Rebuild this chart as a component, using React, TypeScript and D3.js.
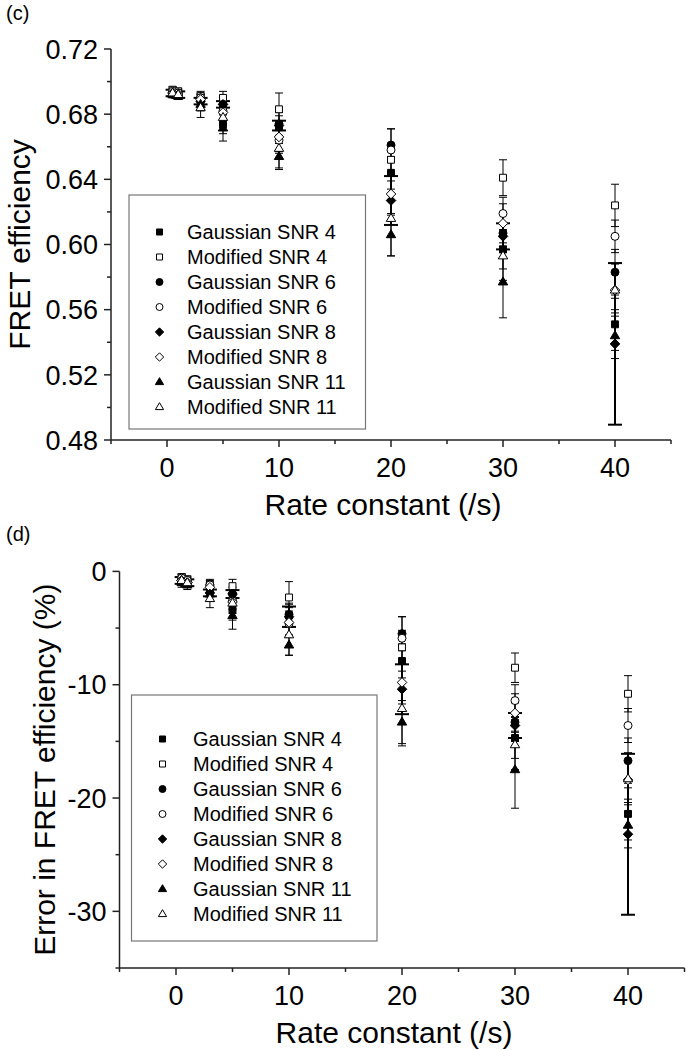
import React from 'react';
import * as d3 from 'd3';

// ---------- data ----------
const rates = [0.5, 1, 3, 5, 10, 20, 30, 40];
const seriesNames = [
  'Gaussian SNR 4', 'Modified SNR 4', 'Gaussian SNR 6', 'Modified SNR 6',
  'Gaussian SNR 8', 'Modified SNR 8', 'Gaussian SNR 11', 'Modified SNR 11',
];

// panel (c): FRET efficiency
const effGS4 = [0.693, 0.692, 0.689, 0.674, 0.672, 0.644, 0.597, 0.551];
const effMS4 = [0.695, 0.694, 0.691, 0.690, 0.683, 0.652, 0.641, 0.624];
const effGS6 = [0.694, 0.693, 0.690, 0.686, 0.674, 0.661, 0.607, 0.583];
const effMS6 = [0.694, 0.693, 0.690, 0.682, 0.664, 0.658, 0.619, 0.605];
const effGS8 = [0.693, 0.692, 0.688, 0.686, 0.673, 0.627, 0.605, 0.539];
const effMS8 = [0.693, 0.692, 0.689, 0.681, 0.666, 0.631, 0.613, 0.572];
const effGS11 = [0.692, 0.691, 0.686, 0.6715, 0.654, 0.606, 0.577, 0.544];
const effMS11 = [0.693, 0.692, 0.684, 0.678, 0.659, 0.616, 0.593, 0.572];

const effErrGS4 = [0.002, 0.002, 0.003, 0.006, 0.007, 0.010, 0.012, 0.016];
const effErrMS4 = [0.002, 0.002, 0.003, 0.004, 0.010, 0.010, 0.011, 0.013];
const effErrGS6 = [0.002, 0.002, 0.003, 0.004, 0.007, 0.010, 0.012, 0.014];
const effErrMS6 = [0.002, 0.002, 0.003, 0.005, 0.008, 0.013, 0.010, 0.010];
const effErrGS8 = [0.002, 0.002, 0.002, 0.002, 0.003, 0.015, 0.008, 0.0496];
const effErrMS8 = [0.002, 0.002, 0.003, 0.005, 0.009, 0.013, 0.012, 0.012];
const effErrGS11 = [0.002, 0.002, 0.004, 0.008, 0.008, 0.013, 0.022, 0.014];
const effErrMS11 = [0.002, 0.002, 0.006, 0.006, 0.012, 0.023, 0.015, 0.016];

// panel (d): error in FRET efficiency (%)
const errGS4 = [-0.8, -1.0, -1.4, -3.4, -3.9, -7.9, -14.7, -21.4];
const errMS4 = [-0.5, -0.7, -1.1, -1.3, -2.3, -6.7, -8.5, -10.8];
const errGS6 = [-0.6, -0.8, -1.2, -2.0, -3.8, -5.5, -13.3, -16.7];
const errMS6 = [-0.6, -0.8, -1.2, -2.6, -4.6, -5.9, -11.4, -13.6];
const errGS8 = [-0.8, -1.0, -1.9, -2.0, -4.0, -10.4, -13.6, -23.2];
const errMS8 = [-0.8, -1.0, -1.4, -2.7, -4.5, -9.8, -12.5, -18.4];
const errGS11 = [-1.0, -1.2, -2.0, -3.9, -6.5, -13.3, -17.5, -22.4];
const errMS11 = [-0.8, -1.0, -2.4, -2.8, -5.6, -12.1, -15.3, -18.3];

const errErrGS4 = [0.3, 0.3, 0.4, 0.9, 1.0, 1.5, 1.8, 2.3];
const errErrMS4 = [0.3, 0.3, 0.4, 0.6, 1.4, 1.5, 1.3, 1.6];
const errErrGS6 = [0.3, 0.3, 0.4, 0.6, 1.0, 1.5, 1.7, 2.0];
const errErrMS6 = [0.3, 0.3, 0.4, 0.7, 1.1, 1.9, 1.4, 1.5];
const errErrGS8 = [0.3, 0.3, 0.3, 0.35, 0.9, 2.2, 1.1, 7.1];
const errErrMS8 = [0.3, 0.3, 0.4, 0.7, 1.3, 1.9, 1.7, 1.7];
const errErrGS11 = [0.4, 0.4, 0.6, 1.2, 0.9, 1.9, 3.4, 2.0];
const errErrMS11 = [0.3, 0.3, 0.8, 0.9, 1.8, 3.3, 2.2, 2.3];

const effTicks = [0.48, 0.52, 0.56, 0.60, 0.64, 0.68, 0.72];
const effMinor = [0.50, 0.54, 0.58, 0.62, 0.66, 0.70];
const errTicks = [0, -10, -20, -30];
const errMinor = [-5, -15, -25, -35];
const xTicks = [0, 10, 20, 30, 40];
const xMinor = [-5, 5, 15, 25, 35, 45];

// ---------- styles ----------
const FONT = "'Liberation Sans', Arial, Helvetica, sans-serif";
const shapes = ['square', 'square', 'circle', 'circle', 'diamond', 'diamond', 'triangle', 'triangle'];
const filled = [true, false, true, false, true, false, true, false];
const barWidth = [1, 1, 1, 1, 2, 1, 1, 1];
const capHalf = [4, 4, 4, 4, 7, 4, 4, 4];

function markerPath(shape: string, s: number): string {
  const p = d3.path();
  if (shape === 'square') {
    const h = s * 0.43;
    p.rect(-h, -h, 2 * h, 2 * h);
  } else if (shape === 'circle') {
    const r = s * 0.5;
    p.moveTo(r, 0);
    p.arc(0, 0, r, 0, Math.PI * 2);
  } else if (shape === 'diamond') {
    const h = s * 0.6;
    p.moveTo(0, -h); p.lineTo(h, 0); p.lineTo(0, h); p.lineTo(-h, 0); p.closePath();
  } else {
    const h = s * 0.62;
    p.moveTo(0, -h); p.lineTo(h * 0.95, h * 0.6); p.lineTo(-h * 0.95, h * 0.6); p.closePath();
  }
  return p.toString();
}

type PanelProps = {
  values: number[][];
  errors: number[][];
  xRange: [number, number];
  yDomain: [number, number];
  yRange: [number, number];
  yTicks: number[];
  yMinor: number[];
  yFmt: (v: number) => string;
  yTitle: string;
  yTitleX: number;
  label: string;
  labelY: number;
  legendBox: [number, number, number, number];
  legendMarkerX: number;
  legendTextX: number;
  legendRow0: number;
};

function Panel(p: PanelProps) {
  const x = d3.scaleLinear().domain([-5, 45]).range(p.xRange);
  const y = d3.scaleLinear().domain(p.yDomain).range(p.yRange);
  const x0 = p.xRange[0];
  const yb = p.yRange[0];
  const yt = p.yRange[1];
  const ms = 8;
  const axisColor = '#222';
  return (
    <g>
      <text x={6} y={p.labelY} fontSize={20} fontFamily={FONT} fill="#000">{p.label}</text>
      {/* error bars */}
      {p.values.map((vals, si) => (
        <g key={'e' + si} stroke="#000" strokeWidth={barWidth[si]} fill="none">
          {vals.map((v, i) => {
            const cx = x(rates[i]);
            const y1 = y(v + p.errors[si][i]);
            const y2 = y(v - p.errors[si][i]);
            const c = capHalf[si];
            return (
              <g key={i}>
                <line x1={cx} x2={cx} y1={y1} y2={y2} />
                <line x1={cx - c} x2={cx + c} y1={y1} y2={y1} />
                <line x1={cx - c} x2={cx + c} y1={y2} y2={y2} />
              </g>
            );
          })}
        </g>
      ))}
      {/* markers */}
      {p.values.map((vals, si) => (
        <g key={'m' + si}>
          {vals.map((v, i) => (
            <path key={i} d={markerPath(shapes[si], ms)}
              transform={`translate(${x(rates[i])},${y(v)})`}
              fill={filled[si] ? '#000' : '#fff'} stroke="#000" strokeWidth={1} />
          ))}
        </g>
      ))}
      {/* axes */}
      <line x1={x0} x2={x0} y1={yt} y2={yb} stroke={axisColor} strokeWidth={1.5} />
      <line x1={x0} x2={p.xRange[1]} y1={yb} y2={yb} stroke={axisColor} strokeWidth={1.5} />
      {p.yTicks.map((t) => (
        <g key={'yt' + t}>
          <line x1={x0 - 7} x2={x0} y1={y(t)} y2={y(t)} stroke={axisColor} strokeWidth={1.5} />
          <text x={x0 - 13} y={y(t)} dy="0.36em" textAnchor="end" fontSize={27} fontFamily={FONT}>{p.yFmt(t)}</text>
        </g>
      ))}
      {p.yMinor.map((t) => (
        <line key={'ym' + t} x1={x0 - 4} x2={x0} y1={y(t)} y2={y(t)} stroke={axisColor} strokeWidth={1.5} />
      ))}
      {xTicks.map((t) => (
        <g key={'xt' + t}>
          <line x1={x(t)} x2={x(t)} y1={yb} y2={yb + 7} stroke={axisColor} strokeWidth={1.5} />
          <text x={x(t)} y={yb + 37} textAnchor="middle" fontSize={27} fontFamily={FONT}>{t}</text>
        </g>
      ))}
      {xMinor.map((t) => (
        <line key={'xm' + t} x1={x(t)} x2={x(t)} y1={yb} y2={yb + 4} stroke={axisColor} strokeWidth={1.5} />
      ))}
      <text x={(x(-5) + x(45)) / 2 - 8} y={yb + 75} textAnchor="middle" fontSize={30} fontFamily={FONT}>Rate constant (/s)</text>
      <text transform={`translate(${p.yTitleX},${(yb + yt) / 2}) rotate(-90)`} textAnchor="middle" fontSize={30} fontFamily={FONT}>{p.yTitle}</text>
      {/* legend */}
      <rect x={p.legendBox[0]} y={p.legendBox[1]} width={p.legendBox[2] - p.legendBox[0]} height={p.legendBox[3] - p.legendBox[1]}
        fill="#fff" stroke="#777" strokeWidth={1.2} />
      {seriesNames.map((n, si) => {
        const ly = p.legendRow0 + si * 25;
        return (
          <g key={'l' + si}>
            <path d={markerPath(shapes[si], 7)} transform={`translate(${p.legendMarkerX},${ly})`}
              fill={filled[si] ? '#000' : '#fff'} stroke="#000" strokeWidth={1} />
            <text x={p.legendTextX} y={ly} dy="0.36em" fontSize={20} fontFamily={FONT}>{n}</text>
          </g>
        );
      })}
    </g>
  );
}

export default function App() {
  const effVals = [effGS4, effMS4, effGS6, effMS6, effGS8, effMS8, effGS11, effMS11];
  const effErrs = [effErrGS4, effErrMS4, effErrGS6, effErrMS6, effErrGS8, effErrMS8, effErrGS11, effErrMS11];
  const errVals = [errGS4, errMS4, errGS6, errMS6, errGS8, errMS8, errGS11, errMS11];
  const errErrs = [errErrGS4, errErrMS4, errErrGS6, errErrMS6, errErrGS8, errErrMS8, errErrGS11, errErrMS11];
  return (
    <svg width={687} height={1050} style={{ position: 'absolute', left: 0, top: 0, background: '#fff' }}>
      <rect width={687} height={1050} fill="#fff" />
      <Panel values={effVals} errors={effErrs}
        xRange={[111, 671]} yDomain={[0.48, 0.72]} yRange={[440, 49]}
        yTicks={effTicks} yMinor={effMinor} yFmt={d3.format('.2f')}
        yTitle="FRET efficiency" yTitleX={30} label="(c)" labelY={20}
        legendBox={[129, 195, 365.5, 429]} legendMarkerX={159.5} legendTextX={187} legendRow0={232} />
      <Panel values={errVals} errors={errErrs}
        xRange={[119.5, 684.5]} yDomain={[-35, 0]} yRange={[968, 571.4]}
        yTicks={errTicks} yMinor={errMinor} yFmt={(v) => String(v).replace('-', '-')}
        yTitle="Error in FRET efficiency (%)" yTitleX={55} label="(d)" labelY={541}
        legendBox={[131.5, 695, 377, 941]} legendMarkerX={162.5} legendTextX={193} legendRow0={739} />
    </svg>
  );
}
